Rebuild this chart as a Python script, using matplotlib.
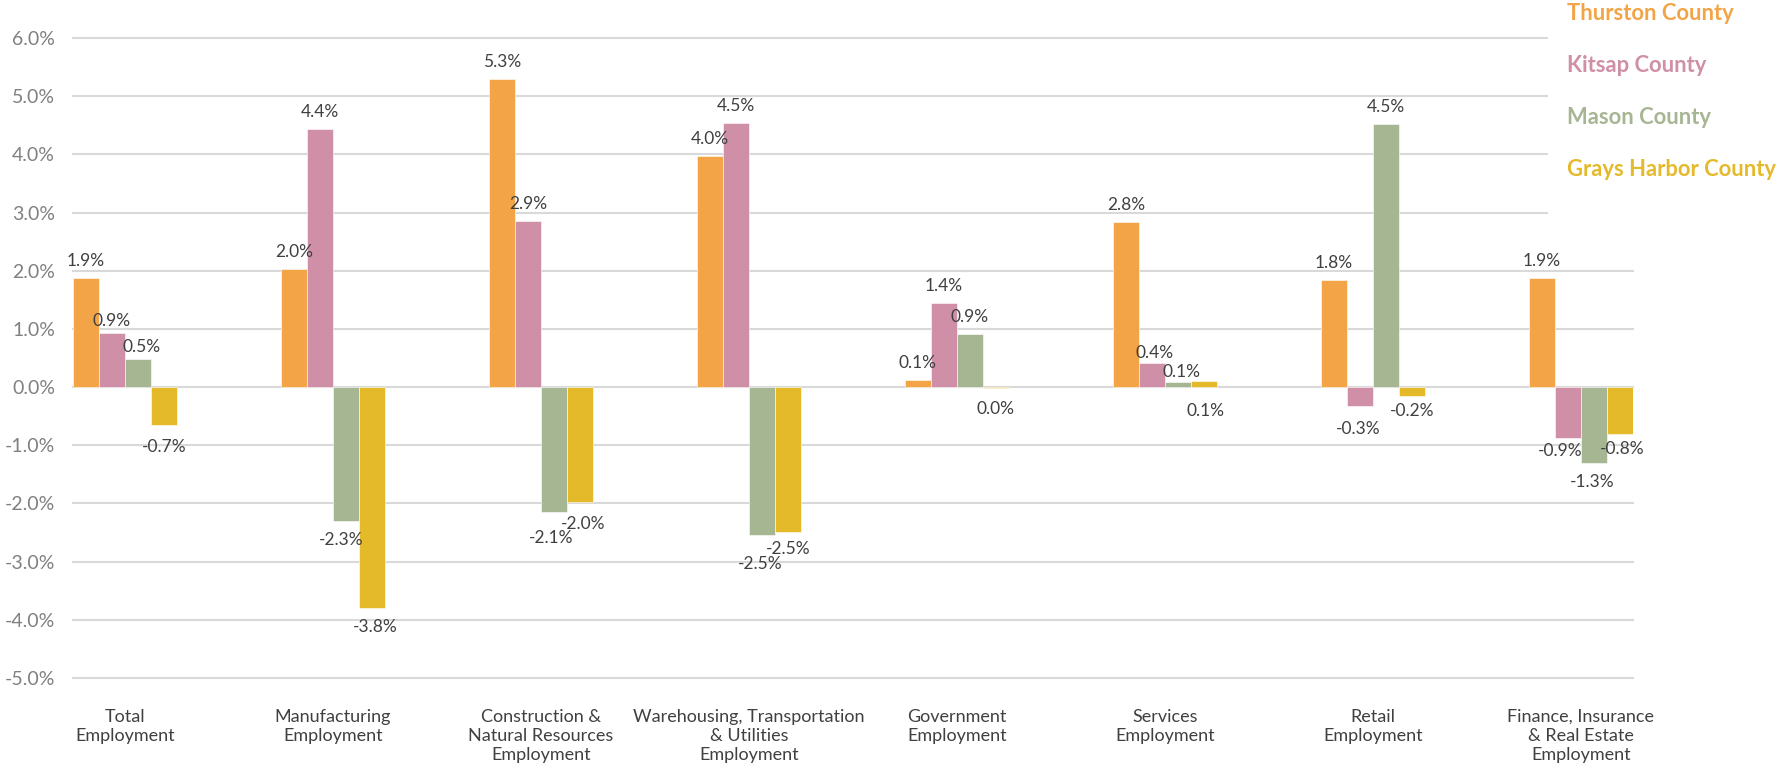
import matplotlib.pyplot as plt
from matplotlib.patches import Rectangle
import numpy as np

categories = [
    "Total\nEmployment",
    "Manufacturing\nEmployment",
    "Construction &\nNatural Resources\nEmployment",
    "Warehousing, Transportation\n& Utilities\nEmployment",
    "Government\nEmployment",
    "Services\nEmployment",
    "Retail\nEmployment",
    "Finance, Insurance\n& Real Estate\nEmployment",
]
counties = ["Thurston County", "Kitsap County", "Mason County", "Grays Harbor County"]

# annual employment change, percent
thurston = [1.88, 2.03, 5.30, 3.97, 0.13, 2.84, 1.84, 1.87]
kitsap = [0.93, 4.44, 2.86, 4.54, 1.44, 0.41, -0.33, -0.87]
mason = [0.49, -2.30, -2.14, -2.54, 0.91, 0.09, 4.53, -1.31]
grays_harbor = [-0.66, -3.79, -1.97, -2.49, -0.02, 0.10, -0.16, -0.81]

series = [thurston, kitsap, mason, grays_harbor]
colors = ["#F2A446", "#CF8FA6", "#A6B592", "#E5BA2A"]

W, H, DPI = 1783, 770, 100
FONT = "Lato"

# label nudges in pixels (dx, dy) relative to the bar end, for crowded spots
nudges = {
    (1, 0): (0, 12), (2, 0): (4, 12), (3, 0): (0, -22),
    (2, 1): (-5, -19), (3, 1): (3, -19),
    (2, 2): (-3, -26), (3, 2): (3, -22),
    (2, 3): (-2, -29), (3, 3): (0, -17),
    (3, 4): (0, -21),
    (1, 5): (3, 10), (2, 5): (4, 10), (3, 5): (2, -30),
    (1, 6): (-2, -23), (3, 6): (0, -15),
    (1, 7): (-8, -13), (2, 7): (-2, -19), (3, 7): (2, -15),
}

fig = plt.figure(figsize=(W / DPI, H / DPI), dpi=DPI)
left, right, top, bottom = 73, 1633, 38, 678
ax = fig.add_axes([left / W, 1 - bottom / H, (right - left) / W, (bottom - top) / H])

x = np.arange(len(categories))
bw = 0.125
for k, (vals, col) in enumerate(zip(series, colors)):
    xs = x - 0.1875 + k * bw
    ax.bar(xs, vals, width=bw, color=col, edgecolor="white", linewidth=0.4, zorder=2)
    for i, (xi, v) in enumerate(zip(xs, vals)):
        txt = f"{v:.1f}%".replace("-0.0", "0.0")
        dx, dy = nudges.get((k, i), (0, 17 if v >= 0 else -20))
        ax.annotate(txt, (xi, v), xytext=(dx * 0.72, dy * 0.72),
                    textcoords="offset points", ha="center", va="center",
                    fontsize=12.5, color="#404040", family=FONT, zorder=4)

ax.set_xlim(-0.25, 7.25)
ax.set_ylim(-5, 6)
ax.set_yticks(np.arange(-5, 7, 1))
ax.set_yticklabels([f"{t:.1f}%" for t in np.arange(-5, 7, 1)])
ax.set_xticks(x)
ax.set_xticklabels(categories, linespacing=1.24)
ax.yaxis.grid(True, color="#d9d9d9", linewidth=1.5, clip_on=False)
ax.set_axisbelow(True)
for s in ax.spines.values():
    s.set_visible(False)
ax.tick_params(axis="both", length=0)
ax.tick_params(axis="y", pad=13, labelsize=14, labelcolor="#808080")
ax.tick_params(axis="x", pad=22, labelsize=13, labelcolor="#404040")
for lab in ax.get_yticklabels() + ax.get_xticklabels():
    lab.set_family(FONT)

# legend: plain coloured county names on a white block
fig.add_artist(Rectangle((1548 / W, 1 - 240 / H), (W - 1548) / W, 240 / H,
                         transform=fig.transFigure, facecolor="white",
                         edgecolor="none", zorder=1))
for name, col, yc in zip(counties, colors, [14, 66, 117, 169]):
    fig.text(1567 / W, 1 - yc / H, name, color=col, fontsize=15.8,
             fontweight="bold", family=FONT, ha="left", va="center", zorder=3)

fig.savefig("out.png", dpi=DPI)
